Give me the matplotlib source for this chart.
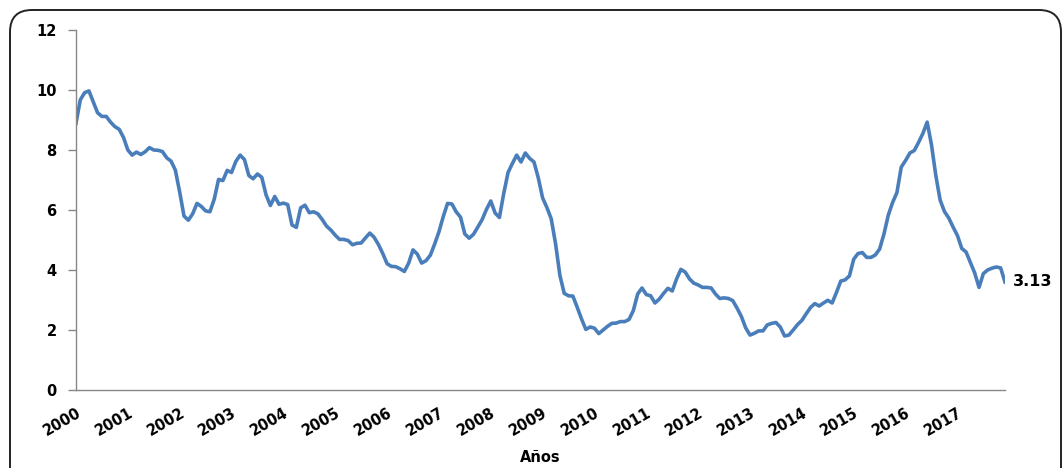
import numpy as np
import matplotlib.pyplot as plt
from matplotlib.patches import FancyBboxPatch

# monthly values, one list per year
years = list(range(2000, 2018))
v2000 = [8.89, 9.67, 9.91, 9.97, 9.60, 9.24, 9.12, 9.12, 8.93, 8.78, 8.69, 8.42]
v2001 = [8.00, 7.83, 7.93, 7.85, 7.94, 8.08, 8.00, 7.99, 7.95, 7.74, 7.63, 7.33]
v2002 = [6.60, 5.80, 5.66, 5.87, 6.22, 6.12, 5.97, 5.94, 6.36, 7.02, 6.98, 7.32]
v2003 = [7.25, 7.62, 7.83, 7.68, 7.15, 7.04, 7.20, 7.09, 6.50, 6.15, 6.45, 6.19]
v2004 = [6.23, 6.18, 5.50, 5.42, 6.07, 6.16, 5.91, 5.94, 5.87, 5.68, 5.46, 5.33]
v2005 = [5.16, 5.02, 5.02, 4.98, 4.84, 4.89, 4.90, 5.07, 5.23, 5.09, 4.85, 4.55]
v2006 = [4.21, 4.12, 4.11, 4.04, 3.95, 4.23, 4.67, 4.53, 4.23, 4.31, 4.49, 4.86]
v2007 = [5.27, 5.78, 6.22, 6.20, 5.94, 5.76, 5.20, 5.06, 5.19, 5.43, 5.68, 6.02]
v2008 = [6.30, 5.90, 5.75, 6.55, 7.25, 7.55, 7.83, 7.60, 7.90, 7.72, 7.60, 7.07]
v2009 = [6.40, 6.08, 5.70, 4.87, 3.82, 3.22, 3.14, 3.13, 2.76, 2.37, 2.02, 2.10]
v2010 = [2.06, 1.88, 2.00, 2.12, 2.22, 2.23, 2.28, 2.28, 2.35, 2.65, 3.20, 3.40]
v2011 = [3.18, 3.14, 2.90, 3.03, 3.22, 3.39, 3.30, 3.70, 4.02, 3.93, 3.70, 3.56]
v2012 = [3.50, 3.42, 3.42, 3.40, 3.20, 3.05, 3.07, 3.05, 2.98, 2.73, 2.45, 2.07]
v2013 = [1.83, 1.89, 1.97, 1.97, 2.17, 2.22, 2.25, 2.10, 1.80, 1.83, 2.00, 2.18]
v2014 = [2.32, 2.54, 2.75, 2.88, 2.80, 2.90, 2.99, 2.90, 3.25, 3.63, 3.67, 3.80]
v2015 = [4.36, 4.55, 4.58, 4.42, 4.42, 4.50, 4.70, 5.20, 5.83, 6.25, 6.58, 7.43]
v2016 = [7.65, 7.90, 7.98, 8.25, 8.55, 8.93, 8.17, 7.15, 6.33, 5.95, 5.73, 5.43]
v2017 = [5.15, 4.72, 4.60, 4.25, 3.90, 3.42, 3.88, 4.00, 4.06, 4.10, 4.07, 3.60]
last_label = "3.13"

values = (v2000 + v2001 + v2002 + v2003 + v2004 + v2005 + v2006 + v2007 + v2008
          + v2009 + v2010 + v2011 + v2012 + v2013 + v2014 + v2015 + v2016 + v2017)
months = np.arange(len(values))

fig = plt.figure(figsize=(10.64, 4.68), dpi=100)

# rounded frame around the chart (pixel coordinates, bottom edge runs off the image)
frame = FancyBboxPatch((10, -40), 1051, 498, boxstyle="round,pad=0,rounding_size=22",
                       transform=None, fill=False, edgecolor='#222222', linewidth=1.4)
fig.patches.append(frame)

ax = fig.add_axes([0.0714, 0.1667, 0.8731, 0.7692])
ax.plot(months, values, color='#4a7ebb', linewidth=2.6, solid_joinstyle='round')

ax.set_xlim(0, len(values) - 1)
ax.set_ylim(0, 12)
ax.set_yticks(range(0, 13, 2))
ax.set_xticks(np.arange(0, len(values), 12))
ax.set_xticklabels([str(y) for y in years], rotation=30, ha='right', va='top',
                   rotation_mode='anchor', fontweight='bold', fontsize=10.5)
for lbl in ax.get_yticklabels():
    lbl.set_fontweight('bold')
    lbl.set_fontsize(10.5)

ax.tick_params(axis='x', length=0, pad=11)
ax.tick_params(axis='y', length=6, color='#888888', width=1, pad=8)
for s in ['top', 'right']:
    ax.spines[s].set_visible(False)
for s in ['left', 'bottom']:
    ax.spines[s].set_color('#888888')
    ax.spines[s].set_linewidth(1)

ax.set_xlabel('Años', fontweight='bold', fontsize=10.5, labelpad=8)

ax.annotate(last_label, xy=(months[-1], values[-1]), xytext=(6, 0), textcoords='offset points',
            va='center', ha='left', fontweight='bold', fontsize=11.5, annotation_clip=False)

plt.savefig('out.png', dpi=100)
